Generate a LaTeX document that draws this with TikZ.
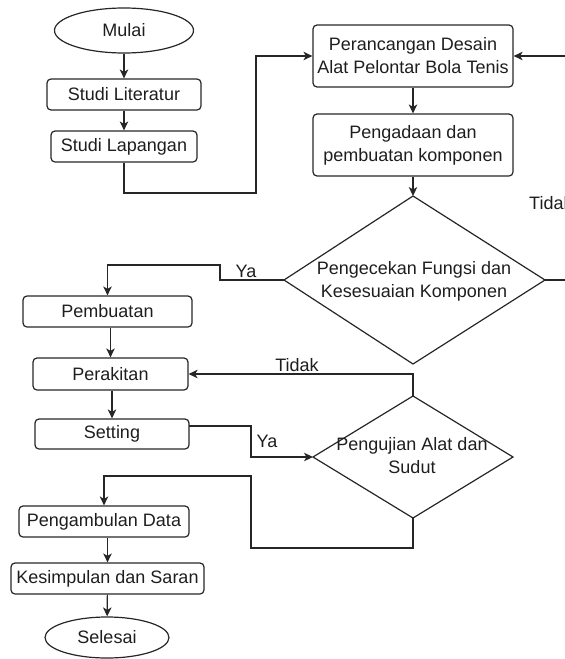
\documentclass[tikz,border=0pt]{standalone}
\usepackage{fontspec}
\setmainfont{Liberation Sans}
\usetikzlibrary{arrows.meta,shapes.geometric}
\definecolor{ln}{HTML}{262626}
\definecolor{txt}{HTML}{1E1E1E}
\begin{document}
\begin{tikzpicture}[x=1pt,y=-1pt,
  every node/.style={font=\fontsize{18}{23}\selectfont, text=txt},
  box/.style={draw=ln, line width=1.2pt, rounded corners=4pt, inner sep=0pt, align=center},
  term/.style={draw=ln, line width=1.2pt, ellipse, inner sep=0pt},
  conn/.style={draw=ln, line width=1.2pt},
  arr/.style={conn, -{Stealth[length=9pt,width=8.5pt,inset=2.5pt]}},
  lbl/.style={inner sep=0pt, align=center}
]
\useasboundingbox (0,0) rectangle (565,659);

% nodes
\node[term, minimum width=139pt, minimum height=45pt] (mulai) at (124,30.5) {Mulai};
\node[box, minimum width=154pt, minimum height=31pt] (lit) at (124,94.5) {Studi Literatur};
\node[box, minimum width=146pt, minimum height=31pt] (lap) at (124,146.5) {Studi Lapangan};
\node[box, minimum width=200pt, minimum height=62pt] (ranc) at (413,56) {Perancangan Desain\\Alat Pelontar Bola Tenis};
\node[box, minimum width=200pt, minimum height=62pt] (ada) at (413,145) {Pengadaan dan\\pembuatan komponen};

\coordinate (d1t) at (413,196);
\coordinate (d1r) at (545,280);
\coordinate (d1b) at (413,364);
\coordinate (d1l) at (284,280);
\draw[conn] (d1t) -- (d1r) -- (d1b) -- (d1l) -- cycle;
\node[lbl] (cek) at (414,281) {Pengecekan Fungsi dan\\Kesesuaian Komponen};

\node[box, minimum width=169pt, minimum height=31pt] (pemb) at (107.5,311.5) {Pembuatan};
\node[box, minimum width=155pt, minimum height=32pt] (rakit) at (110.5,374) {Perakitan};
\node[box, minimum width=154pt, minimum height=30pt] (set) at (112,434) {Setting};

\coordinate (d2t) at (413,396);
\coordinate (d2r) at (513,457);
\coordinate (d2b) at (413,518);
\coordinate (d2l) at (313,457);
\draw[conn] (d2t) -- (d2r) -- (d2b) -- (d2l) -- cycle;
\node[lbl] (uji) at (412,456) {Pengujian Alat dan\\Sudut};

\node[box, minimum width=170pt, minimum height=31pt] (ambil) at (104,521.5) {Pengambulan Data};
\node[box, minimum width=193pt, minimum height=31pt] (kesim) at (107.5,578.5) {Kesimpulan dan Saran};
\node[term, minimum width=124pt, minimum height=41pt] (selesai) at (107,637.5) {Selesai};

% connectors
\draw[arr] (mulai) -- (lit);
\draw[arr] (lit) -- (lap);
\coordinate (c1) at (256,193);
\draw[arr] (lap.south) |- (c1) |- (ranc.west);
\draw[arr] (ranc) -- (ada);
\draw[arr] (ada) -- (d1t);

\coordinate (c2) at (585,280);
\draw[arr] (d1r) -- (c2) |- (ranc.east);
\node[lbl, anchor=west] (tidak1) at (529,203) {Tidak};

\coordinate (c3) at (220,265);
\draw[arr] (d1l) -| (c3) -| (pemb.north);
\node[lbl] (ya1) at (246,271.5) {Ya};

\draw[arr] (rakit.north |- pemb.south) -- (rakit.north);
\draw[arr] (set.north |- rakit.south) -- (set.north);

\draw[arr] (d2t) |- (rakit.east);
\node[lbl] (tidak2) at (297,365) {Tidak};

\coordinate (s1) at (189,426);
\coordinate (c4) at (251,426);
\draw[arr] (s1) -- (c4) |- (d2l);
\node[lbl] (ya2) at (267,441) {Ya};

\coordinate (c5) at (413,548);
\coordinate (c6) at (251,476);
\draw[arr] (d2b) -- (c5) -| (c6) -| (ambil.north);

\draw[arr] (kesim.north |- ambil.south) -- (kesim.north);
\draw[arr] (kesim) -- (selesai);
\end{tikzpicture}
\end{document}
